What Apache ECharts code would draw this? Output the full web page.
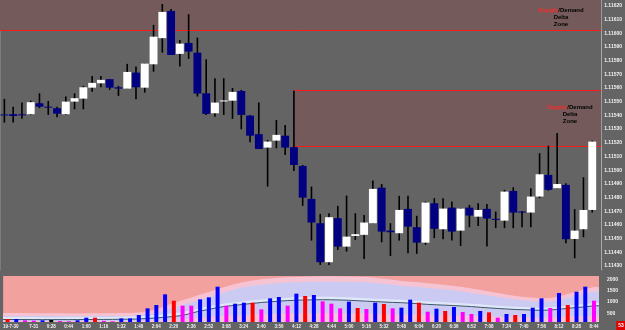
<!DOCTYPE html>
<html><head><meta charset="utf-8">
<script src="https://cdn.jsdelivr.net/npm/echarts@6/dist/echarts.min.js"></script>
<style>html,body{margin:0;padding:0;background:#646464;}#c{width:625px;height:330px;}</style>
</head><body><div id="c"></div>
<script>
// ---- data ----
const opens = [1.115405,1.115409,1.115405,1.115409,1.115489,1.115461,1.115453,1.115409,1.115501,1.115523,
1.115603,1.115635,1.115665,1.115606,1.115596,1.115713,1.115603,1.115774,1.115965,1.116164,
1.115850,1.115930,1.115859,1.115562,1.115416,1.115506,1.115508,1.115579,1.115399,1.115263,
1.115165,1.115216,1.115252,1.115168,1.115031,1.114790,1.114612,1.114327,1.114649,1.114441,
1.114519,1.114527,1.114612,1.114872,1.114558,1.114539,1.114717,1.114583,1.114470,1.114758,
1.114568,1.114726,1.114558,1.114726,1.114660,1.114717,1.114644,1.114631,1.114848,1.114697,
1.114690,1.114807,1.114965,1.114868,1.114892,1.114497,1.114568,1.114709];
const highs = [1.115521,1.115464,1.115494,1.115508,1.115562,1.115506,1.115464,1.115538,1.115562,1.115616,
1.115689,1.115689,1.115665,1.115616,1.115777,1.115757,1.115779,1.116062,1.116215,1.116179,
1.115952,1.116140,1.115969,1.115811,1.115672,1.115672,1.115601,1.115587,1.115404,1.115494,
1.115221,1.115367,1.115331,1.115581,1.115038,1.114880,1.114680,1.114685,1.114739,1.114814,
1.114685,1.114673,1.114924,1.114899,1.114612,1.114812,1.114812,1.114666,1.114770,1.114795,
1.114795,1.114770,1.114722,1.114746,1.114758,1.114753,1.114697,1.114856,1.114875,1.114702,
1.114868,1.115124,1.115179,1.115272,1.114905,1.114715,1.114948,1.115216];
const lows = [1.115348,1.115348,1.115375,1.115404,1.115453,1.115404,1.115387,1.115404,1.115445,1.115445,
1.115574,1.115606,1.115587,1.115543,1.115596,1.115519,1.115567,1.115720,1.115859,1.115842,
1.115757,1.115813,1.115538,1.115404,1.115391,1.115404,1.115375,1.115299,1.115204,1.115155,
1.114880,1.115160,1.115111,1.114994,1.114739,1.114485,1.114307,1.114307,1.114417,1.114405,
1.114490,1.114351,1.114612,1.114473,1.114373,1.114485,1.114393,1.114388,1.114454,1.114503,
1.114495,1.114485,1.114446,1.114583,1.114592,1.114441,1.114576,1.114576,1.114576,1.114583,
1.114583,1.114795,1.114850,1.114868,1.114466,1.114356,1.114510,1.114690];
const closes = [1.115403,1.115396,1.115404,1.115497,1.115464,1.115460,1.115413,1.115501,1.115526,1.115606,
1.115638,1.115660,1.115603,1.115596,1.115718,1.115606,1.115779,1.115976,1.116157,1.115842,
1.115925,1.115867,1.115560,1.115411,1.115494,1.115506,1.115572,1.115404,1.115252,1.115155,
1.115209,1.115258,1.115165,1.115038,1.114799,1.114617,1.114327,1.114656,1.114441,1.114514,
1.114532,1.114617,1.114863,1.114551,1.114546,1.114709,1.114587,1.114470,1.114763,1.114571,
1.114719,1.114551,1.114719,1.114668,1.114709,1.114646,1.114636,1.114843,1.114690,1.114690,
1.114807,1.114970,1.114856,1.114899,1.114495,1.114558,1.114709,1.115209];
const volumes = [132,132,75,60,75,88,40,30,75,190,
190,50,30,160,160,309,603,750,1222,941,
721,721,1001,1089,1560,721,809,854,854,559,
1045,1104,721,1251,1148,1192,912,809,603,898,
618,574,854,795,603,633,986,854,456,588,
486,662,441,353,486,427,191,353,309,353,
633,1045,618,1280,750,1339,1560,941];
const volumeKinds = ['r','b','m','m','b','k','m','m','b','b',
'r','m','m','b','b','b','b','b','b','r',
'm','m','b','b','b','m','b','b','r','m',
'b','b','m','b','r','b','m','m','m','b',
'r','m','b','r','m','b','b','r','m','b',
'r','b','m','m','b','r','m','b','r','b',
'b','b','m','b','r','b','b','m'];
const volMA = [110,110,108,106,105,105,105,106,108,110,112,113,115,
120,125,135,155,180,210,245,290,389,486,552,640,693,737,781,821,861,892,918,945,962,971,980,985,980,971,958,940,918,901,883,865,852,830,804,777,759,742,724,702,680,649,623,596,574,552,539,525,516,530,561,605,636,671,715];
const volBandInner = [220,220,218,216,215,215,215,216,218,220,222,223,225,
230,240,255,280,310,345,385,440,520,620,690,775,830,875,915,955,995,1025,1050,1075,1090,1100,1110,1115,1110,1100,1090,1070,1050,1030,1010,995,980,960,935,910,890,870,855,830,810,780,750,720,695,675,660,645,635,650,680,725,760,795,835];
const volBandMid = [270,270,265,260,260,255,255,250,250,255,260,260,260,265,
270,285,320,380,510,630,750,860,990,1100,1230,1340,1450,1540,1600,1650,1690,1720,1740,1755,1765,1775,1780,1780,1775,1770,1765,1750,1720,1690,1650,1600,1570,1540,1500,1470,1430,1390,1345,1285,1225,1165,1105,1045,985,950,920,900,910,970,1070,1170,1270,1350];
const volBandOuter = [400,400,395,390,390,385,385,380,380,385,390,390,390,395,
400,420,470,552,706,839,971,1082,1214,1325,1457,1567,1678,1766,1832,1885,1921,1951,1974,1987,2000,2010,2015,2015,2010,2005,2000,1987,1951,1912,1868,1810,1779,1753,1713,1678,1634,1589,1545,1479,1413,1347,1280,1214,1148,1104,1068,1046,1060,1126,1236,1347,1457,1545];
const volBandLow = [45,45,44,43,42,42,42,43,44,45,46,46,47,48,
50,55,62,72,85,100,118,150,190,220,255,280,295,310,325,340,350,360,370,375,380,385,385,385,380,375,370,360,355,345,340,335,325,315,305,300,295,285,275,265,255,245,235,225,215,210,205,200,205,220,240,250,265,285];
const timeLabels = ['19-7-30','7-31','0:28','0:44','1:00','1:16','1:32','1:48','2:04','2:20','2:36','2:52','3:08','3:24','3:40','3:56','4:12','4:28','4:44','5:00','5:16','5:32','5:48','6:04','6:20','6:36','6:52','7:08','7:24','7:40','7:56','8:12','8:28','8:44'];
const priceTicks = [1.11430,1.11440,1.11450,1.11460,1.11470,1.11480,1.11490,1.11500,1.11510,1.11520,1.11530,1.11540,1.11550,1.11560,1.11570,1.11580,1.11590,1.11600,1.11610,1.11620];
const volumeTicks = [500,1000,1500,2000];
const priceMin = 1.114270, priceMax = 1.116244;
const volumeMax = 2031;
const zoneStart = [null, 33];
const zoneTop = [1.116244, 1.115586];
const zoneBottom = [1.116025, 1.115177];
const lastPrice = 1.11521;
const countdown = '53';

// ---- layout ----
const SLOT = 8.8, MAIN_W = 603, VOL_W = 599;
const xMin = -0.5;
const mainMax = xMin + MAIN_W / SLOT;
const volMax = xMin + VOL_W / SLOT;
const candleData = opens.map((o, i) => [i, o, closes[i], lows[i], highs[i]]);
const kindColor = {b:'#0000ff', r:'#ff0000', m:'#ff00ff', k:'#000000'};
const labelPos = timeLabels.map((_, k) => 2 * k + 1);
function padSeries(arr, maxX) {
  return [[xMin, arr[0]]].concat(arr.map((v, i) => [i, v]), [[maxX, arr[arr.length - 1]]]);
}
function band(name, arr, color, z) {
  return {name, type:'line', xAxisIndex:1, yAxisIndex:1, data: padSeries(arr, volMax), symbol:'none',
    lineStyle:{width:0}, areaStyle:{color, opacity:1}, z, silent:true, animation:false};
}
const FONT = 'Liberation Sans';
const zoneRich = {
  r:{fill:'#ff2a2a', font:'bold 6px "Liberation Sans"', lineHeight:7, align:'center'},
  k:{fill:'#000000', font:'bold 6px "Liberation Sans"', lineHeight:7, align:'center'}
};
const chart = echarts.init(document.getElementById('c'), null, {renderer:'canvas'});
chart.setOption({
  animation:false,
  backgroundColor:'#646464',
  textStyle:{fontFamily:FONT},
  grid:[
    {left:0, top:0, width:MAIN_W, height:270, show:false},
    {left:0, top:276, width:VOL_W, height:46, show:true, backgroundColor:'#f3a19f', borderWidth:0}
  ],
  xAxis:[
    {type:'value', gridIndex:0, min:xMin, max:mainMax, show:false},
    {type:'value', gridIndex:1, min:xMin, max:volMax,
      axisLine:{show:false}, axisTick:{show:false}, splitLine:{show:false},
      axisLabel:{customValues:labelPos, margin:2, color:'#f2f2f2', fontSize:4.5, fontWeight:'bold', fontFamily:FONT,
        formatter:(v) => { const t = timeLabels[(v - 1) / 2]; return v === 1 ? '{f|' + t + '}' : t; },
        rich:{f:{fontSize:4.5, fontWeight:'bold', color:'#f2f2f2', fontFamily:FONT, padding:[0,11,0,0]}}}}
  ],
  yAxis:[
    {type:'value', gridIndex:0, position:'right', min:priceMin, max:priceMax,
      axisLine:{show:true, onZero:false, lineStyle:{color:'#a9a9a9', width:1}}, axisTick:{show:false}, splitLine:{show:false},
      axisLabel:{customValues:priceTicks, margin:3, color:'#f2f2f2', fontSize:5, fontWeight:'bold', fontFamily:FONT,
        formatter:(v) => v.toFixed(5)}},
    {type:'value', gridIndex:1, position:'right', min:0, max:volumeMax,
      axisLine:{show:false, onZero:false}, axisTick:{show:false}, splitLine:{show:false},
      axisLabel:{customValues:volumeTicks, margin:8, color:'#f2f2f2', fontSize:5, fontWeight:'bold', fontFamily:FONT,
        verticalAlign:'top', formatter:(v) => String(v)}},
    {type:'value', gridIndex:0, position:'left', min:0, max:1,
      axisLine:{show:true, onZero:false, lineStyle:{color:'#7c7c7c', width:1}}, axisTick:{show:false},
      axisLabel:{show:false}, splitLine:{show:false}}
  ],
  series:[
    {type:'custom', name:'price', xAxisIndex:0, yAxisIndex:0, z:3, data:candleData,
      encode:{x:0, y:[1,2,3,4]},
      renderItem:(params, api) => {
        const i = api.value(0), o = api.value(1), c = api.value(2), l = api.value(3), h = api.value(4);
        const pO = api.coord([i, o]), pC = api.coord([i, c]), pH = api.coord([i, h]), pL = api.coord([i, l]);
        const w = api.size([1, 0])[0] * 0.9;
        const x = pO[0];
        let top = Math.min(pO[1], pC[1]), bot = Math.max(pO[1], pC[1]);
        if (bot - top < 1) { const m = (top + bot) / 2; top = m - 0.5; bot = m + 0.5; }
        return {type:'group', children:[
          {type:'line', shape:{x1:x, y1:pH[1], x2:x, y2:pL[1]}, style:{stroke:'#000000', lineWidth:1.6}},
          {type:'rect', shape:{x:x - w / 2, y:top, width:w, height:bot - top}, style:{fill: c >= o ? '#ffffff' : '#000080'}}
        ]};
      },
      markArea:{silent:true, z:1, itemStyle:{color:'#745a5a'}, label:{show:false}, data:[
        [{coord:[xMin, zoneTop[0]]}, {coord:[mainMax, zoneBottom[0]]}],
        [{coord:[zoneStart[1], zoneTop[1]]}, {coord:[mainMax, zoneBottom[1]]}]
      ]},
      markLine:{silent:true, z:2, symbol:['none','none'], animation:false,
        lineStyle:{color:'#ff1a1a', width:1, type:'solid'}, label:{show:false},
        data:[
          [{coord:[xMin, zoneBottom[0]]}, {coord:[mainMax, zoneBottom[0]]}],
          [{coord:[zoneStart[1], zoneTop[1]]}, {coord:[mainMax, zoneTop[1]]}],
          [{coord:[zoneStart[1], zoneBottom[1]]}, {coord:[mainMax, zoneBottom[1]]}],
          {yAxis:lastPrice, lineStyle:{opacity:0}, label:{show:true, position:'end', distance:2,
            formatter:() => lastPrice.toFixed(5), backgroundColor:'#ffffff', color:'#000000',
            fontSize:5, fontWeight:'bold', fontFamily:FONT, padding:[1,2,1,2]}}
        ]}
    },
    band('outer', volBandOuter, '#f6c3d3', 1),
    band('mid', volBandMid, '#cbcaf2', 1),
    band('inner', volBandInner, '#dfe7f9', 1),
    band('maArea', volMA, '#cbcaf2', 1),
    band('low', volBandLow, '#f4c6d6', 1),
    {type:'line', name:'volMA', xAxisIndex:1, yAxisIndex:1, data:padSeries(volMA, volMax), symbol:'none',
      lineStyle:{color:'#3a5868', width:1}, z:2, silent:true},
    {type:'bar', name:'volume', xAxisIndex:1, yAxisIndex:1, barWidth:4, z:3,
      data:volumes.map((v, i) => [i, v]),
      itemStyle:{color:(p) => kindColor[volumeKinds[p.dataIndex]]}}
  ],
  graphic:[
    {type:'text', x:561, y:6.5, z:10, silent:true, style:{
      text:'{r|Supply}{k|/Demand}\n{k|Delta}\n{k|Zone}', align:'center', verticalAlign:'top', rich:zoneRich}},
    {type:'text', x:570, y:103.5, z:10, silent:true, style:{
      text:'{r|Supply}{k|/Demand}\n{k|Delta}\n{k|Zone}', align:'center', verticalAlign:'top', rich:zoneRich}},
    {type:'text', x:621, y:325.5, z:10, silent:true, style:{
      text:countdown, align:'center', verticalAlign:'middle', fill:'#ffffff', font:'bold 5px "Liberation Sans"',
      backgroundColor:'#e00000', padding:[2,2,2,2]}}
  ]
});
</script></body></html>
